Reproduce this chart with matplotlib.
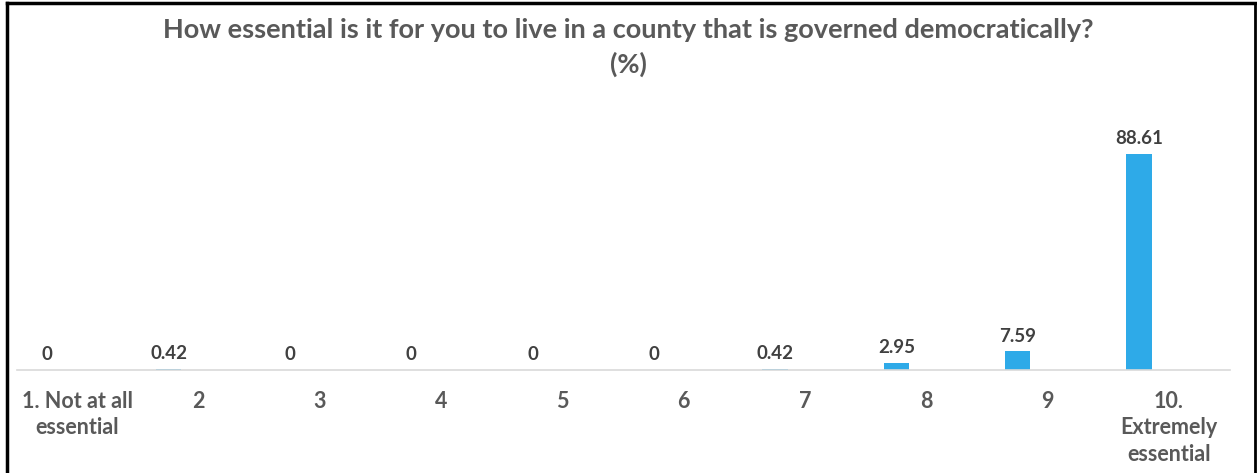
import matplotlib
matplotlib.use('Agg')
import matplotlib.pyplot as plt
from matplotlib.lines import Line2D

categories = ['1. Not at all\nessential', '2', '3', '4', '5', '6', '7', '8', '9',
              '10.\nExtremely\nessential']
values = [0, 0.42, 0, 0, 0, 0, 0.42, 2.95, 7.59, 88.61]
value_labels = ['0', '0.42', '0', '0', '0', '0', '0.42', '2.95', '7.59', '88.61']

title = 'How essential is it for you to live in a county that is governed democratically?\n(%)'

bar_color = '#2EAAE8'
text_color = '#595959'

plt.rcParams['font.family'] = ['Lato', 'DejaVu Sans']

fig = plt.figure(figsize=(12.57, 4.73), dpi=100)
ax = fig.add_axes([17 / 1257, 1 - 370 / 473, (1230 - 17) / 1257, 244 / 473])

x = list(range(len(categories)))
ax.bar(x, values, width=0.21, color=bar_color, zorder=2)

ax.set_xlim(-0.25, 9.75)
ax.set_ylim(0, 100)

# value labels above bars
for xi, v, lab in zip(x, values, value_labels):
    ax.annotate(lab, (xi, v), xytext=(0, 5), textcoords='offset points',
                ha='center', va='bottom', fontsize=13.5, fontweight='bold',
                color='#404040')

# category labels (shifted right like the original)
for xi, lab in zip(x, categories):
    ax.text(xi + 0.245, -8.5, lab, ha='center', va='top', fontsize=15.5,
            fontweight='bold', color=text_color, linespacing=1.33)

for s in ['left', 'right', 'top']:
    ax.spines[s].set_visible(False)
ax.spines['bottom'].set_color('#D9D9D9')
ax.spines['bottom'].set_linewidth(1.2)
ax.set_xticks([])
ax.set_yticks([])

fig.text(0.5, 1 - 18 / 473, title, ha='center', va='top', fontsize=19.5,
         fontweight='bold', color=text_color, linespacing=1.45)

# black frame around the picture (left, top, right)
W, H = 1257, 473
fig.add_artist(Line2D([7 / W, 7 / W], [0, 1 - 3 / H], color='black', lw=2.5))
fig.add_artist(Line2D([7 / W, 1255 / W], [1 - 3 / H, 1 - 3 / H], color='black', lw=2.5))
fig.add_artist(Line2D([1255 / W, 1255 / W], [0, 1 - 3 / H], color='black', lw=2))

fig.savefig('out.png', dpi=100)
